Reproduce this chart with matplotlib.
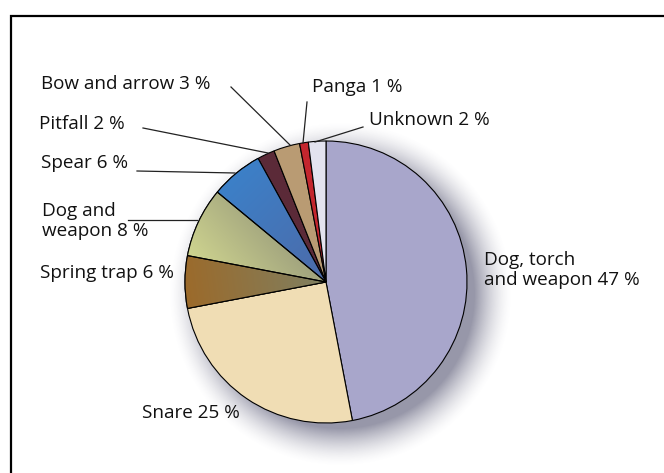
import matplotlib
matplotlib.use('Agg')
import matplotlib.pyplot as plt
import numpy as np
from matplotlib.patches import Wedge

H = 473

labels = ['Dog, torch\nand weapon 47 %', 'Snare 25 %', 'Spring trap 6 %', 'Dog and\nweapon 8 %',
          'Spear 6 %', 'Pitfall 2 %', 'Bow and arrow 3 %', 'Panga 1 %', 'Unknown 2 %']
shares = [47, 25, 6, 8, 6, 2, 3, 1, 2]
colors = ['#a8a6cb', '#f0ddb4', '#94703a', '#d1d78c', '#3f7dc2', '#5b2a38', '#b99b73', '#c3262e', '#e3e3ef']

# label positions (pixels from top-left) and leader lines
lab_xy = [(484, 270), (142, 413), (40, 273), (42, 221), (41, 163), (39, 124), (41, 84), (312, 87), (369, 120)]
leaders = [None, None, None, ((128, 220), (197, 220)), ((137, 171), (235, 173)),
           ((143, 128), (268, 153)), ((231, 87), (290, 145)), ((307, 102), (303, 143)),
           ((363, 127), (315, 142))]

cx, cy, R = 326, H - 282, 141

plt.rcParams['font.family'] = ['Open Sans', 'DejaVu Sans']

fig = plt.figure(figsize=(6.64, 4.73), dpi=100)
ax = fig.add_axes([0, 0, 1, 1])

# soft shadow behind the pie
yy, xx = np.mgrid[0:H, 0:664]
d = np.hypot(xx - (cx + 14), (H - yy) - (cy - 12))
a = np.clip((R + 12 - d) / 38 + 0.5, 0, 1) ** 1.6 * 0.7
shadow = np.zeros((H, 664, 4))
shadow[..., :3] = np.array([0.42, 0.42, 0.52])
shadow[..., 3] = a
ax.imshow(shadow, extent=(0, 664, 0, H), origin='upper', zorder=1)

wedges, _ = ax.pie(shares, colors=colors, startangle=90, counterclock=False,
                   center=(cx, cy), radius=R,
                   wedgeprops=dict(edgecolor='black', linewidth=0.8))
for w in wedges:
    w.set_zorder(2)


# gradient fills on a few slices (clipped to the wedge)
def shade(w, c_from, c_to, p0, p1):
    c_from = np.array(matplotlib.colors.to_rgb(c_from))
    c_to = np.array(matplotlib.colors.to_rgb(c_to))
    vx, vy = p1[0] - p0[0], p1[1] - p0[1]
    t = ((xx - p0[0]) * vx + ((H - yy) - p0[1]) * vy) / (vx * vx + vy * vy)
    t = np.clip(t, 0, 1)[..., None]
    img = c_from * (1 - t) + c_to * t
    im = ax.imshow(img, extent=(0, 664, 0, H), origin='upper', zorder=2.5)
    im.set_clip_path(w)
    ax.add_patch(Wedge((cx, cy), R, w.theta1, w.theta2, facecolor='none',
                       edgecolor='black', linewidth=0.8, zorder=3))


shade(wedges[2], '#9c6a2a', '#7f8062', (cx - R, cy - 20), (cx, cy))
shade(wedges[3], '#d6dc92', '#9c9e7c', (cx - R, cy + 10), (cx - 60, cy + 80))
shade(wedges[4], '#3c80c8', '#4d6aa8', (cx - 100, cy + 100), (cx, cy))

for lab, (lx, ly) in zip(labels, lab_xy):
    ax.text(lx, H - ly, lab, fontsize=13.6, ha='left', va='center', color='#111111',
            linespacing=1.2, zorder=5)

for ln in leaders:
    if ln:
        (x0, y0), (x1, y1) = ln
        ax.plot([x0, x1], [H - y0, H - y1], color='#222222', linewidth=0.9, zorder=4)

# frame
ax.plot([11, 11, 670], [-5, H - 16, H - 16], color='black', linewidth=1.6,
        solid_joinstyle='miter', zorder=6)

ax.set_xlim(0, 664)
ax.set_ylim(0, H)
ax.set_aspect('auto')
ax.axis('off')

fig.savefig('out.png', dpi=100)
